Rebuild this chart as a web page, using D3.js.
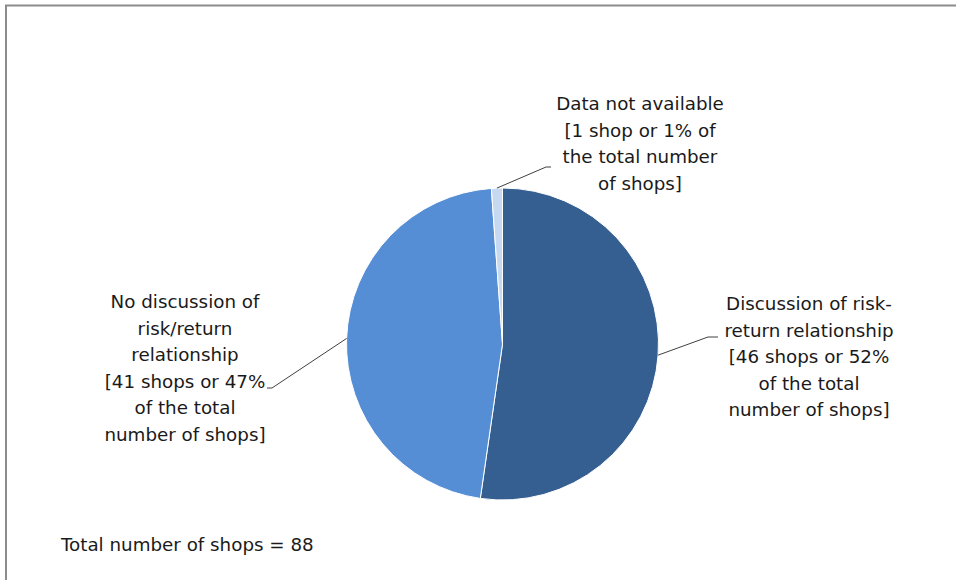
<!DOCTYPE html>
<html>
<head>
<meta charset="utf-8">
<script src="https://cdn.jsdelivr.net/npm/d3@7/dist/d3.min.js"></script>
<style>
  html, body { margin: 0; padding: 0; background: #fff; }
  svg { display: block; }
  text { font-family: "DejaVu Sans", Verdana, sans-serif; fill: #1a1a1a; }
</style>
</head>
<body>
<svg id="chart" width="956" height="580"></svg>
<script>
// Shops by whether the risk/return relationship was discussed
const categories = ["Discussion of risk-return relationship", "No discussion of risk/return relationship", "Data not available"];
const shopCounts = [46, 41, 1];
const sliceColors = ["#355f91", "#558ed5", "#c6d9f1"];
const labelLines = [
  ["Discussion of risk-", "return relationship", "[46 shops or 52%", "of the total", "number of shops]"],
  ["No discussion of", "risk/return", "relationship", "[41 shops or 47%", "of the total", "number of shops]"],
  ["Data not available", "[1 shop or 1% of", "the total number", "of shops]"]
];
// label block anchor (centre x, first baseline y) and leader elbow for each slice
const labelAnchors = [
  { x: 809, y: 310, elbow: [708, 337], end: [718, 337] },
  { x: 185, y: 308, elbow: [272, 388], end: [267, 388] },
  { x: 640, y: 110, elbow: [546, 167], end: [551, 167] }
];
const footnote = "Total number of shops = 88";

const svg = d3.select("#chart");
const W = 956, H = 580;

// frame
svg.append("line").attr("x1", 5).attr("y1", 5.5).attr("x2", W).attr("y2", 5.5)
  .attr("stroke", "#8c8c8c").attr("stroke-width", 2);
svg.append("line").attr("x1", 6).attr("y1", 5).attr("x2", 6).attr("y2", H)
  .attr("stroke", "#8c8c8c").attr("stroke-width", 2);

const cx = 502.5, cy = 344, r = 156;
const g = svg.append("g").attr("transform", `translate(${cx},${cy})`);

const pie = d3.pie().sort(null).value(d => d);
const arcs = pie(shopCounts);
const arc = d3.arc().innerRadius(0).outerRadius(r);

g.selectAll("path.slice").data(arcs).join("path")
  .attr("class", "slice")
  .attr("d", arc)
  .attr("fill", (d, i) => sliceColors[i])
  .attr("stroke", "#ffffff")
  .attr("stroke-width", 1);

// leader lines from each slice's arc midpoint
const edge = d3.arc().innerRadius(r).outerRadius(r);
arcs.forEach((d, i) => {
  const [px, py] = edge.centroid(d);
  const a = labelAnchors[i];
  svg.append("polyline")
    .attr("points", [[cx + px, cy + py], a.elbow, a.end].map(p => p.join(",")).join(" "))
    .attr("fill", "none")
    .attr("stroke", "#404040")
    .attr("stroke-width", 1);
});

// slice labels
const lineH = 26.5;
labelLines.forEach((lines, i) => {
  const a = labelAnchors[i];
  const t = svg.append("text").attr("text-anchor", "middle").attr("font-size", 18.3);
  lines.forEach((s, k) => {
    t.append("tspan").attr("x", a.x).attr("y", a.y + k * lineH).text(s);
  });
});

svg.append("text").attr("x", 61).attr("y", 551).attr("font-size", 18.3).text(footnote);
</script>
</body>
</html>
